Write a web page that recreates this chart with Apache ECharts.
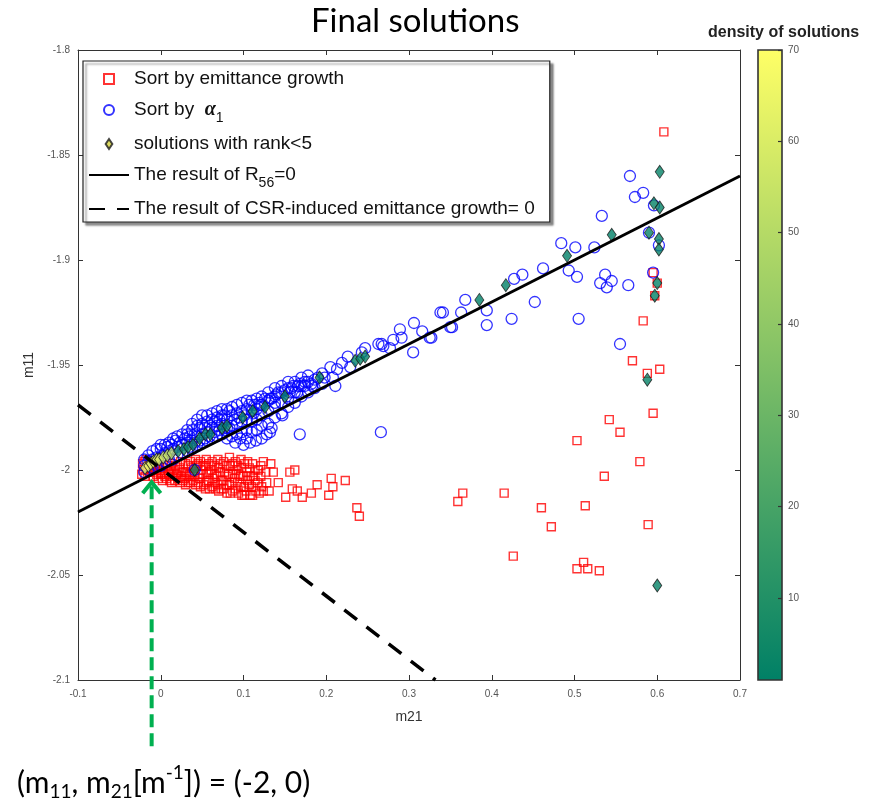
<!DOCTYPE html>
<html><head><meta charset="utf-8">
<script src="https://cdn.jsdelivr.net/npm/echarts@6/dist/echarts.min.js"></script>
<style>html,body{margin:0;padding:0;background:#fff}#c{width:875px;height:799px}</style>
</head><body><div id="c"></div>
<script>
// ---------------- data ----------------
const redSquares = [
 [-0.022,-1.997],[-0.021,-2.000],[-0.023,-2.002],[-0.018,-1.995],[-0.017,-1.999],[-0.019,-2.003],
 [-0.014,-1.997],[-0.013,-2.001],[-0.010,-1.996],[-0.011,-2.000],[-0.009,-2.003],[-0.006,-1.998],[-0.005,-2.002],
 [-0.002,-1.997],[-0.001,-2.000],[-0.003,-2.004],[0.003,-1.999],[0.004,-2.002],[0.002,-2.005],
 [0.008,-1.998],[0.009,-2.001],[0.007,-2.004],[0.013,-1.997],[0.012,-2.000],[0.014,-2.003],[0.013,-2.006],
 [0.018,-1.998],[0.019,-2.002],[0.017,-2.005],[0.024,-1.996],[0.023,-1.999],[0.025,-2.003],[0.024,-2.006],
 [0.030,-1.997],[0.031,-2.001],[0.029,-2.004],[0.030,-2.007],[0.036,-1.996],[0.037,-1.999],[0.035,-2.002],[0.036,-2.006],
 [0.042,-1.995],[0.043,-1.998],[0.041,-2.003],[0.042,-2.007],[0.048,-1.996],[0.049,-2.000],[0.047,-2.004],[0.048,-2.008],
 [0.055,-1.995],[0.054,-1.998],[0.056,-2.002],[0.055,-2.006],[0.054,-2.009],[0.062,-1.996],[0.061,-2.000],[0.063,-2.004],[0.062,-2.008],
 [0.069,-1.995],[0.070,-1.999],[0.068,-2.003],[0.069,-2.007],[0.070,-2.010],[0.076,-1.996],[0.077,-2.001],[0.075,-2.005],[0.076,-2.009],
 [0.083,-1.994],[0.084,-1.998],[0.082,-2.002],[0.083,-2.007],[0.084,-2.011],[0.090,-1.996],[0.091,-2.000],[0.089,-2.004],[0.090,-2.009],
 [0.097,-1.995],[0.098,-1.999],[0.096,-2.003],[0.097,-2.008],[0.098,-2.012],[0.104,-2.001],[0.105,-2.005],[0.103,-2.010],
 [0.111,-1.997],[0.112,-2.003],[0.110,-2.008],[0.111,-2.012],[0.118,-2.000],[0.117,-2.006],[0.119,-2.011],
 [-0.020,-1.996],[-0.016,-2.001],[-0.012,-1.999],[-0.008,-2.001],[-0.004,-1.999],[0.000,-2.002],[0.005,-2.003],[0.010,-2.002],
 [0.011,-2.005],[0.016,-2.000],[0.021,-2.004],[0.020,-2.001],[0.027,-2.001],[0.027,-2.005],[0.033,-1.998],[0.033,-2.003],
 [0.033,-2.006],[0.039,-2.001],[0.039,-2.005],[0.045,-1.997],[0.045,-2.002],[0.045,-2.006],[0.051,-1.998],[0.051,-2.002],
 [0.052,-2.007],[0.058,-1.997],[0.058,-2.001],[0.058,-2.005],[0.059,-2.009],[0.065,-1.998],[0.065,-2.002],[0.066,-2.006],
 [0.066,-2.009],[0.072,-1.997],[0.072,-2.001],[0.073,-2.005],[0.073,-2.009],[0.079,-1.998],[0.080,-2.003],[0.080,-2.007],
 [0.080,-2.011],[0.087,-1.997],[0.087,-2.002],[0.086,-2.006],[0.087,-2.010],[0.093,-1.998],[0.094,-2.002],[0.093,-2.006],
 [0.094,-2.011],[0.101,-1.997],[0.100,-2.003],[0.101,-2.008],[0.101,-2.012],[0.107,-1.999],[0.108,-2.003],[0.107,-2.007],
 [0.108,-2.012],[0.114,-2.000],[0.114,-2.005],[0.115,-2.010],[0.121,-1.998],[0.121,-2.003],[0.122,-2.008],[0.127,-2.001],
 [0.131,-2.010],[0.133,-1.997],
 [0.124,-1.996],[0.105,-1.996],[0.124,-2.010],[0.128,-2.006],[0.136,-2.001],[0.142,-2.006],[0.156,-2.001],[0.162,-2.000],
 [0.159,-2.009],[0.165,-2.010],[0.151,-2.013],[0.171,-2.013],[0.182,-2.011],[0.189,-2.007],[0.203,-2.012],[0.208,-2.008],
 [0.206,-2.004],[0.223,-2.005],[0.237,-2.018],[0.240,-2.022],[0.359,-2.015],[0.365,-2.011],[0.415,-2.011],[0.460,-2.018],
 [0.513,-2.017],[0.589,-2.026],[0.472,-2.027],[0.426,-2.041],[0.511,-2.044],[0.503,-2.047],[0.516,-2.047],[0.530,-2.048],
 [0.536,-2.003],[0.579,-1.996],[0.503,-1.986],[0.555,-1.982],[0.542,-1.976],[0.595,-1.973],[0.603,-1.952],[0.588,-1.954],
 [0.570,-1.948],[0.583,-1.929],[0.597,-1.917],[0.600,-1.911],[0.595,-1.906],[0.608,-1.839]
];
const blueCircles = [
 [-0.020,-2.001],[-0.020,-1.998],[-0.020,-1.995],[-0.015,-2.000],[-0.015,-1.996],[-0.015,-1.993],
 [-0.010,-1.999],[-0.010,-1.995],[-0.010,-1.991],[-0.005,-1.998],[-0.005,-1.994],[-0.005,-1.990],
 [0.000,-1.998],[0.000,-1.994],[0.000,-1.990],[0.000,-1.988],[0.005,-1.996],[0.005,-1.992],[0.005,-1.988],
 [0.010,-1.995],[0.010,-1.991],[0.010,-1.987],[0.015,-1.995],[0.015,-1.990],[0.015,-1.985],
 [0.020,-1.993],[0.020,-1.989],[0.020,-1.984],[0.026,-1.992],[0.026,-1.988],[0.026,-1.983],
 [0.032,-1.991],[0.032,-1.987],[0.032,-1.983],[0.032,-1.981],[0.038,-1.990],[0.038,-1.986],[0.038,-1.981],[0.038,-1.978],
 [0.044,-1.988],[0.044,-1.984],[0.044,-1.979],[0.044,-1.976],[0.050,-1.987],[0.050,-1.983],[0.050,-1.978],[0.050,-1.974],
 [0.056,-1.986],[0.056,-1.982],[0.056,-1.977],[0.056,-1.974],[0.062,-1.985],[0.062,-1.980],[0.062,-1.976],[0.062,-1.973],
 [0.068,-1.984],[0.068,-1.979],[0.068,-1.975],[0.068,-1.972],[0.074,-1.983],[0.074,-1.978],[0.074,-1.974],[0.074,-1.971],
 [0.080,-1.985],[0.080,-1.980],[0.080,-1.976],[0.080,-1.971],[0.086,-1.984],[0.086,-1.979],[0.086,-1.974],[0.086,-1.970],
 [0.092,-1.983],[0.092,-1.978],[0.092,-1.973],[0.092,-1.969],[0.098,-1.982],[0.098,-1.977],[0.098,-1.972],[0.098,-1.968],
 [0.104,-1.981],[0.104,-1.976],[0.104,-1.971],[0.104,-1.967],[0.110,-1.982],[0.110,-1.977],[0.110,-1.972],[0.110,-1.967],
 [0.116,-1.981],[0.116,-1.976],[0.116,-1.971],[0.116,-1.966],[0.122,-1.979],[0.122,-1.974],[0.122,-1.969],[0.122,-1.965],
 [0.130,-1.978],[0.130,-1.972],[0.130,-1.967],[0.130,-1.963],[0.138,-1.975],[0.138,-1.970],[0.138,-1.965],[0.138,-1.961],
 [0.146,-1.973],[0.146,-1.968],[0.146,-1.963],[0.146,-1.960],[0.154,-1.970],[0.154,-1.966],[0.154,-1.961],[0.154,-1.958],
 [0.162,-1.968],[0.162,-1.963],[0.162,-1.958],[0.170,-1.965],[0.170,-1.960],[0.170,-1.956],[0.178,-1.963],[0.178,-1.958],[0.178,-1.955],
 [0.186,-1.961],[0.186,-1.957],[0.195,-1.959],[0.195,-1.954],
 [0.003,-1.993],[0.008,-1.989],[0.013,-1.988],[0.018,-1.986],[0.023,-1.987],[0.029,-1.985],[0.035,-1.984],[0.041,-1.983],
 [0.047,-1.980],[0.053,-1.980],[0.059,-1.979],[0.065,-1.977],[0.071,-1.976],[0.077,-1.974],[0.083,-1.972],[0.089,-1.976],
 [0.095,-1.975],[0.101,-1.974],[0.107,-1.969],[0.113,-1.969],[0.119,-1.968],[0.126,-1.966],[0.134,-1.966],[0.142,-1.963],
 [0.150,-1.962],[0.158,-1.961],[0.166,-1.960],[0.174,-1.958],[0.182,-1.959],[0.190,-1.956],
 [0.035,-1.989],[0.041,-1.987],[0.047,-1.986],[0.053,-1.985],[0.059,-1.984],[0.065,-1.982],[0.071,-1.981],[0.077,-1.981],[0.083,-1.980],
 [0.090,-1.987],[0.100,-1.988],[0.108,-1.987],[0.115,-1.986],[0.122,-1.985],[0.128,-1.983],[0.134,-1.980],[0.104,-1.985],[0.096,-1.985],
 [0.041,-2.000],[0.132,-1.982],[0.168,-1.983],[0.266,-1.982],
 [0.368,-1.919],[0.394,-1.924],[0.394,-1.931],[0.363,-1.925],[0.338,-1.925],[0.341,-1.925],[0.350,-1.932],[0.327,-1.937],
 [0.306,-1.930],[0.316,-1.934],[0.289,-1.933],[0.291,-1.937],[0.305,-1.944],[0.281,-1.938],[0.263,-1.940],[0.269,-1.941],
 [0.277,-1.942],[0.247,-1.942],[0.243,-1.944],[0.226,-1.946],[0.219,-1.949],[0.229,-1.951],[0.213,-1.952],[0.205,-1.951],
 [0.208,-1.956],[0.211,-1.960],[0.198,-1.956],[0.183,-1.960],[0.174,-1.960],[0.168,-1.959],[0.160,-1.960],[0.156,-1.963],
 [0.165,-1.963],[0.140,-1.964],[0.132,-1.966],[0.138,-1.968],[0.120,-1.969],[0.147,-1.974],[0.112,-1.973],
 [0.325,-1.937],[0.352,-1.932],[0.267,-1.940],
 [0.567,-1.860],[0.573,-1.870],[0.583,-1.868],[0.533,-1.879],[0.484,-1.892],[0.501,-1.894],[0.524,-1.894],[0.462,-1.904],
 [0.437,-1.907],[0.427,-1.909],[0.493,-1.905],[0.503,-1.908],[0.537,-1.907],[0.545,-1.910],[0.531,-1.911],[0.539,-1.913],
 [0.565,-1.912],[0.452,-1.920],[0.590,-1.887],[0.595,-1.906],[0.505,-1.928],[0.555,-1.940],[0.424,-1.928],
 [0.596,-1.874],[0.602,-1.893]
];
// [m21, m11, density of solutions]
const rankDiamonds = [
 [-0.019,-1.999,68],[-0.015,-1.998,66],[-0.012,-1.997,63],[-0.009,-1.996,65],[-0.005,-1.995,60],[-0.002,-1.995,62],
 [0.003,-1.994,58],[0.008,-1.993,55],[0.013,-1.992,50],
 [0.021,-1.991,8],[0.028,-1.990,6],[0.033,-1.989,5],[0.039,-1.988,5],[0.047,-1.985,4],[0.054,-1.983,4],[0.060,-1.983,3],
 [0.074,-1.980,3],[0.080,-1.979,3],[0.099,-1.975,3],[0.111,-1.972,2],[0.126,-1.970,2],[0.150,-1.965,2],[0.192,-1.956,2],
 [0.235,-1.948,2],[0.241,-1.947,2],[0.247,-1.946,2],[0.385,-1.919,1],[0.417,-1.912,1],[0.491,-1.898,1],[0.545,-1.888,1],
 [0.590,-1.887,2],[0.602,-1.890,2],[0.602,-1.895,2],[0.596,-1.873,2],[0.603,-1.875,2],[0.603,-1.858,2],[0.600,-1.911,2],
 [0.597,-1.917,2],[0.588,-1.957,2],[0.600,-2.055,2],[0.041,-2.000,3]
];
const r56Line = [[-0.1,-2.02],[0.7,-1.86]];
const csrLine = [[-0.1,-1.969],[0.332,-2.1]];
const colorbarTicks = [10,20,30,40,50,60,70];
const densityRange = [1, 70];
const summerColors = ['#008066','#ffff66'];

const names = ['Sort by emittance growth','Sort by α1','solutions with rank<5','The result of R56=0','The result of CSR-induced emittance growth= 0'];
const legendRich = {
 'Sort by emittance growth':'{t|Sort by emittance growth}',
 'Sort by α1':'{t|Sort by  }{a|α}{s|1}',
 'solutions with rank<5':'{t|solutions with rank<5}',
 'The result of R56=0':'{t|The result of R}{s|56}{t|=0}',
 'The result of CSR-induced emittance growth= 0':'{t|The result of CSR-induced emittance growth= 0}'
};

const chart = echarts.init(document.getElementById('c'), null, {renderer:'canvas'});
const axisCommon = {
 axisLine:{show:true,onZero:false,lineStyle:{color:'#333',width:1}},
 axisTick:{show:true,inside:true,length:5,lineStyle:{color:'#333'}},
 splitLine:{show:false}
};
const tickFont = {fontFamily:'Liberation Sans',fontSize:10,color:'#555'};
const option = {
 animation:false,
 backgroundColor:'#fff',
 title:[
  {text:'Final solutions',left:306,top:0,textStyle:{fontFamily:'Lato',fontSize:33,fontWeight:'normal',color:'#000'}},
  {text:'density of solutions',left:703,top:20,textStyle:{fontFamily:'Liberation Sans',fontSize:16,fontWeight:'bold',color:'#222'}}
 ],
 grid:[
  {left:78,top:50,width:662,height:630},
  {left:758,top:50,width:24,height:630}
 ],
 xAxis:[
  Object.assign({type:'value',gridIndex:0,min:-0.1,max:0.7,interval:0.1,position:'bottom',
   name:'m21',nameLocation:'middle',nameGap:30,nameTextStyle:{fontFamily:'Liberation Sans',fontSize:14,color:'#333'},
   axisLabel:Object.assign({margin:9},tickFont)},axisCommon),
  Object.assign({type:'value',gridIndex:0,min:-0.1,max:0.7,interval:0.1,position:'top',axisLabel:{show:false}},axisCommon),
  {type:'value',gridIndex:1,min:0,max:1,show:false}
 ],
 yAxis:[
  Object.assign({type:'value',gridIndex:0,min:-2.1,max:-1.8,interval:0.05,position:'left',
   name:'m11',nameLocation:'middle',nameGap:34,nameRotate:90,nameTextStyle:{fontFamily:'Liberation Sans',fontSize:14,color:'#333'},
   axisLabel:Object.assign({margin:8},tickFont)},axisCommon),
  Object.assign({type:'value',gridIndex:0,min:-2.1,max:-1.8,interval:0.05,position:'right',axisLabel:{show:false}},axisCommon),
  {type:'value',gridIndex:1,min:densityRange[0],max:densityRange[1],position:'right',z:10,
   axisLine:{show:false,onZero:false},splitLine:{show:false},
   axisTick:{show:true,inside:true,length:4,customValues:colorbarTicks,lineStyle:{color:'#333',width:1.2}},
   axisLabel:Object.assign({margin:6,customValues:colorbarTicks},tickFont)}
 ],
 visualMap:{type:'continuous',show:false,min:densityRange[0],max:densityRange[1],dimension:2,seriesIndex:4,inRange:{color:summerColors}},
 legend:{
  orient:'vertical',left:83,top:61,itemWidth:40,itemHeight:10,itemGap:7,
  padding:[6,15,1,5],backgroundColor:'#fff',borderColor:'#222',borderWidth:1.2,
  shadowColor:'rgba(0,0,0,0.45)',shadowBlur:2,shadowOffsetX:3,shadowOffsetY:3,
  selectedMode:false,symbolKeepAspect:true,
  data:[
   {name:names[0],icon:'path://M0,0H10V10H0Z'},
   {name:names[1],icon:'circle'},
   {name:names[2],icon:'path://M4,0L8,6L4,12L0,6Z'},
   {name:names[3]},
   {name:names[4]}
  ],
  formatter:n=>legendRich[n],
  textStyle:{fontFamily:'Liberation Sans',fontSize:19,color:'#111',lineHeight:24,
   rich:{
    t:{fontFamily:'Liberation Sans',fontSize:19,color:'#111'},
    a:{fontFamily:'Liberation Serif',fontStyle:'italic',fontWeight:'bold',fontSize:20,color:'#111'},
    s:{fontFamily:'Liberation Sans',fontSize:14,color:'#111',padding:[8,0,-8,0]}
   }}
 },
 series:[
  {name:names[0],type:'scatter',data:redSquares,symbol:'rect',symbolSize:8,
   itemStyle:{color:'rgba(255,255,255,0)',borderColor:'#ff0000',borderWidth:1.4}},
  {name:names[1],type:'scatter',data:blueCircles,symbol:'circle',symbolSize:11,
   itemStyle:{color:'rgba(255,255,255,0)',borderColor:'#0000ff',borderWidth:1.3}},
  {name:names[3],type:'line',data:r56Line,symbol:'none',lineStyle:{color:'#000',width:3},
   itemStyle:{color:'rgba(0,0,0,0)',borderWidth:0}},
  {name:names[4],type:'line',data:csrLine,symbol:'none',lineStyle:{color:'#000',width:3.5,type:[16,12]},
   itemStyle:{color:'rgba(0,0,0,0)',borderWidth:0}},
  {name:names[2],type:'scatter',data:rankDiamonds,symbol:'diamond',symbolSize:[9,13],
   itemStyle:{color:'#d4d23c',borderColor:'#1a1a1a',borderWidth:0.9}},
  {type:'custom',xAxisIndex:2,yAxisIndex:2,silent:true,z:1,data:[[0,densityRange[0],densityRange[1]]],
   renderItem:function(params,api){
    const p0 = api.coord([0, api.value(2)]);
    const p1 = api.coord([1, api.value(1)]);
    return {type:'rect',shape:{x:p0[0],y:p0[1],width:p1[0]-p0[0],height:p1[1]-p0[1]},
     style:{fill:new echarts.graphic.LinearGradient(0,1,0,0,[{offset:0,color:summerColors[0]},{offset:1,color:summerColors[1]}]),
      stroke:'#333',lineWidth:1.6}};
   }}
 ]
};
chart.setOption(option);

// annotation arrow and caption
const tip = chart.convertToPixel({gridIndex:0},[-0.011,-2.0058]);
chart.setOption({graphic:[
 {type:'line',shape:{x1:tip[0],y1:tip[1]+4,x2:tip[0],y2:750},style:{stroke:'#00b050',lineWidth:4,lineDash:[13,6]},z:100},
 {type:'polyline',shape:{points:[[tip[0]-9,tip[1]+11],[tip[0],tip[1]],[tip[0]+9,tip[1]+11]]},style:{stroke:'#00b050',lineWidth:4,fill:null},z:100},
 {type:'text',left:17,top:763,z:100,style:{
  text:'{n|(m}{s|11}{n|, m}{s|21}{n|[m}{p|-1}{n|]) = (-2, 0)}',
  rich:{
   n:{fontFamily:'Lato',fontSize:30,color:'#000',lineHeight:35},
   s:{fontFamily:'Lato',fontSize:19,color:'#000',lineHeight:35,padding:[8,0,-8,0]},
   p:{fontFamily:'Lato',fontSize:19,color:'#000',lineHeight:35,padding:[-11,0,11,0]}
  }}}
]});
</script></body></html>
